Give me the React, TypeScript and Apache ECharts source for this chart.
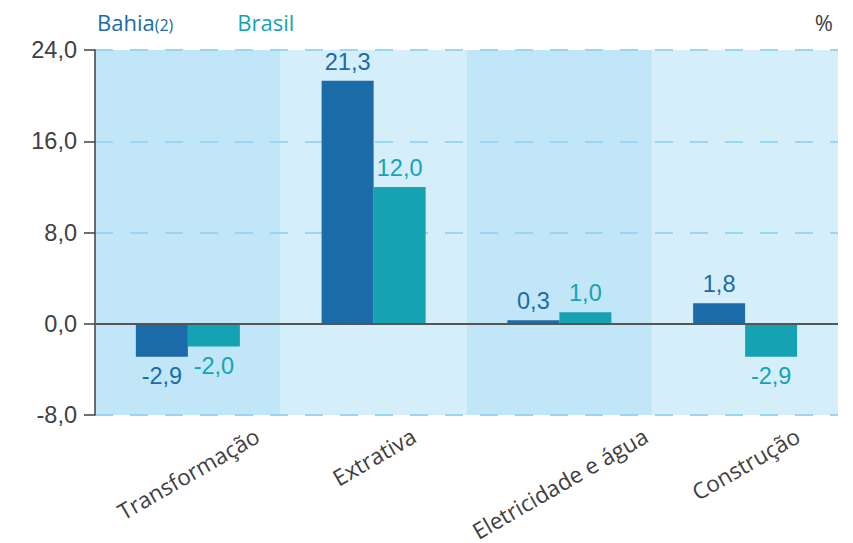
import React, { useEffect, useRef } from "react";
import * as echarts from "echarts";

const categories = ["Transformação", "Extrativa", "Eletricidade e água", "Construção"];
const bahiaValues = [-2.9, 21.3, 0.3, 1.8];
const brasilValues = [-2.0, 12.0, 1.0, -2.9];
const yTicks = { min: -8, max: 24, interval: 8 };

const BAHIA = "#1a6ba7";
const BRASIL = "#15a3b3";
const TXT = "#404040";
const CAT_SIZE = 22.5;
const NUM_SIZE = 23.5;
const LABEL_FONT = `${CAT_SIZE}px 'Open Sans'`;

function measure(text: string): number {
  const c = document.createElement("canvas").getContext("2d");
  if (!c) return text.length * 11;
  c.font = LABEL_FONT;
  return c.measureText(text).width;
}

const fmt = (v: number) => v.toFixed(1).replace(".", ",");

export default function App() {
  const ref = useRef<HTMLDivElement>(null);
  useEffect(() => {
    if (!ref.current) return;
    const chart = echarts.init(ref.current, undefined, { renderer: "svg" });
    const cosA = Math.cos(Math.PI / 6);
    const catData = categories.map((c) => {
      const L = measure(c);
      return {
        value: c,
        textStyle: {
          align: "center",
          verticalAlign: "top",
          padding: [0.5 * cosA * L * 0.5, L / 4 + 12, 0, 0],
        },
      };
    });
    const mkData = (vals: number[]) =>
      vals.map((v) => ({ value: v, label: { position: v < 0 ? "bottom" : "top" } }));
    chart.setOption({
      animation: false,
      grid: { left: 95, right: 15, top: 50, bottom: 128, outerBoundsMode: "none" },
      title: {
        text: "%",
        right: 15,
        top: 6,
        textStyle: { fontSize: 22, fontWeight: "normal", color: TXT, fontFamily: "Open Sans" },
      },
      legend: {
        left: 87,
        top: 6,
        icon: "none",
        itemWidth: 0,
        itemGap: 59,
        data: [
          { name: "Bahia", textStyle: { color: BAHIA } },
          { name: "Brasil", textStyle: { color: BRASIL } },
        ],
        formatter: (n: string) => (n === "Bahia" ? "Bahia{s|(2)}" : n),
        textStyle: {
          fontSize: 22,
          fontFamily: "Open Sans",
          rich: { s: { fontSize: 16, color: BAHIA, fontFamily: "Open Sans", padding: [6, 0, 0, 0] } },
        },
      },
      xAxis: {
        type: "category",
        z: 0,
        data: catData,
        axisLine: { show: false },
        axisTick: { show: false },
        splitArea: { show: true, areaStyle: { color: ["#c0e6f8", "#d4eefa"] } },
        axisLabel: {
          interval: 0,
          rotate: 30,
          margin: 6,
          fontSize: CAT_SIZE,
          fontFamily: "Open Sans",
          color: TXT,
        },
      },
      yAxis: {
        type: "value",
        z: 1,
        min: yTicks.min,
        max: yTicks.max,
        interval: yTicks.interval,
        axisLine: { show: true, lineStyle: { color: TXT, width: 1.5 } },
        axisTick: { show: true, length: 11, lineStyle: { color: TXT, width: 1.5 } },
        axisLabel: {
          margin: 18,
          fontSize: NUM_SIZE,
          fontFamily: "Liberation Sans, Arial",
          color: TXT,
          formatter: (v: number) => fmt(v),
        },
        splitLine: { show: true, lineStyle: { color: "#9ad5f4", width: 2, type: [18, 17] } },
      },
      series: [
        {
          name: "Bahia",
          type: "bar",
          data: mkData(bahiaValues),
          barWidth: 52,
          barGap: "0%",
          itemStyle: { color: BAHIA },
          label: {
            show: true,
            distance: 7,
            fontSize: NUM_SIZE,
            fontFamily: "Liberation Sans, Arial",
            color: BAHIA,
            formatter: (p: any) => fmt(p.value),
          },
          markLine: {
            silent: true,
            symbol: "none",
            label: { show: false },
            lineStyle: { color: "#555", width: 1.8, type: "solid" },
            data: [{ yAxis: 0 }],
            z: 5,
          },
        },
        {
          name: "Brasil",
          type: "bar",
          data: mkData(brasilValues),
          barWidth: 52,
          itemStyle: { color: BRASIL },
          label: {
            show: true,
            distance: 7,
            fontSize: NUM_SIZE,
            fontFamily: "Liberation Sans, Arial",
            color: BRASIL,
            formatter: (p: any) => fmt(p.value),
          },
        },
      ],
    });
    return () => chart.dispose();
  }, []);
  return (
    <div
      ref={ref}
      style={{ position: "fixed", left: 0, top: 0, width: 853, height: 543, background: "#fff" }}
    />
  );
}
